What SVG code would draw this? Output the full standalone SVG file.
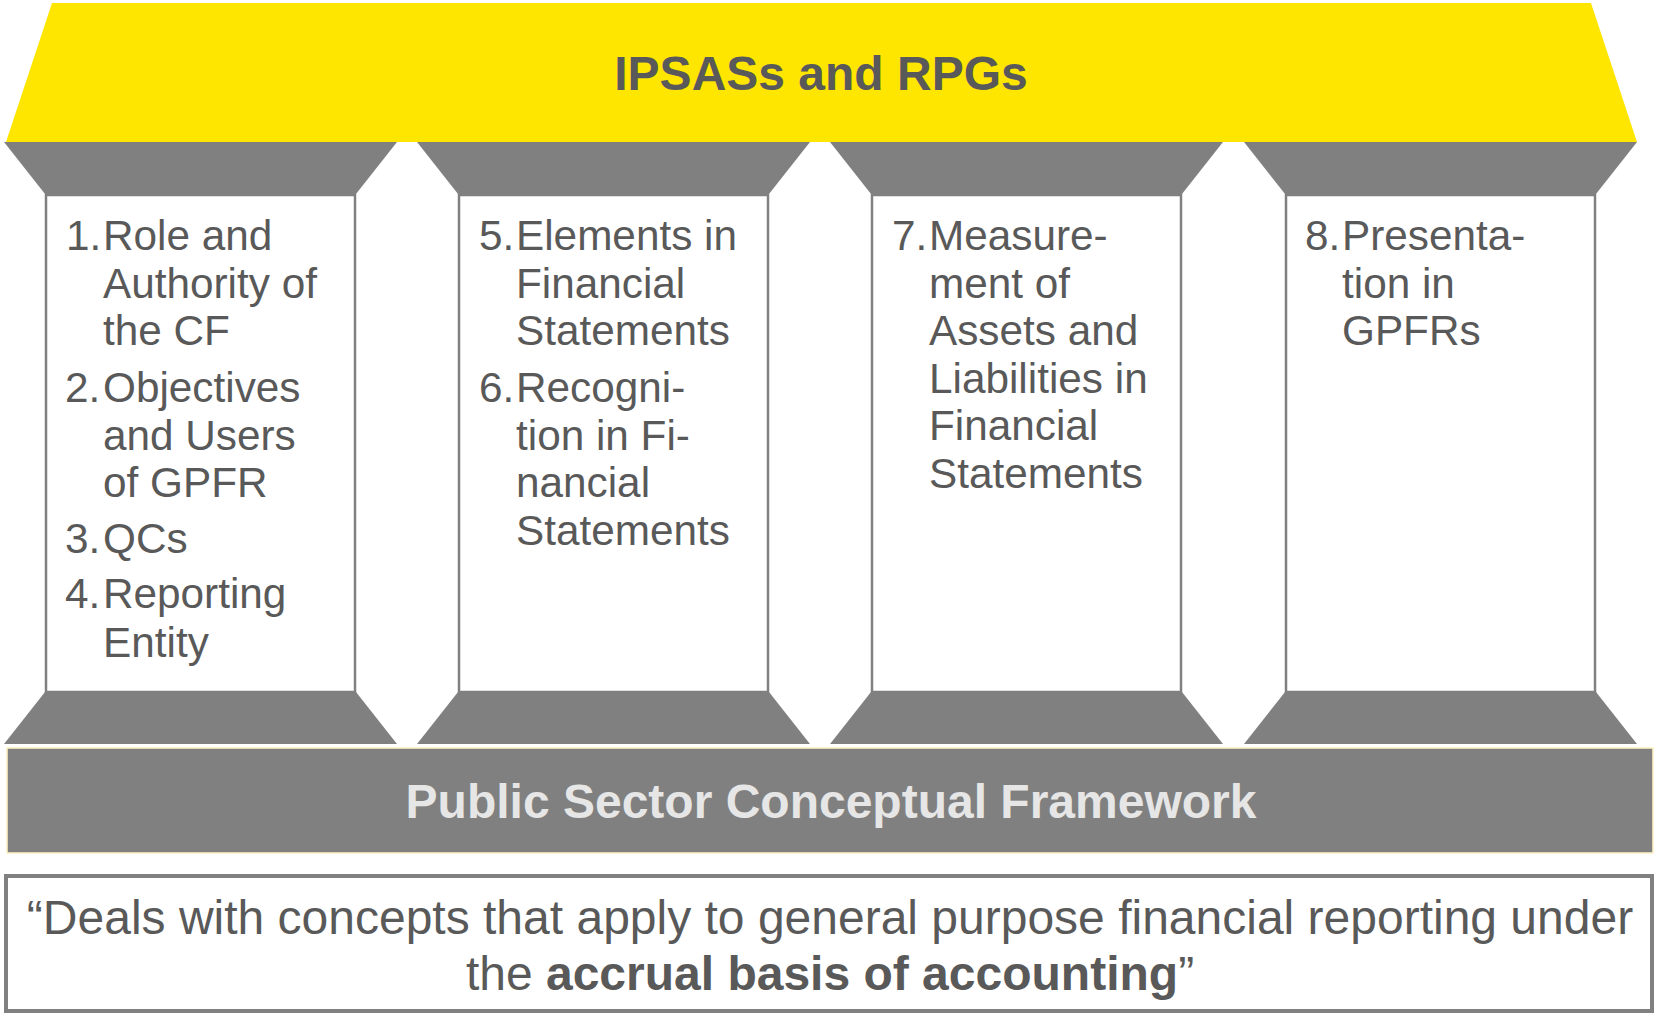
<svg xmlns="http://www.w3.org/2000/svg" width="1655" height="1014" viewBox="0 0 1655 1014">
<style>
.cap{fill:#808080}
.col{fill:#fff;stroke:#808080;stroke-width:2.5}
.t{font-family:"Liberation Sans",Arial,sans-serif;font-size:42.3px;fill:#595959}
.title{font-family:"Liberation Sans",Arial,sans-serif;font-size:48px;font-weight:bold;fill:#595959}
.band{font-family:"Liberation Sans",Arial,sans-serif;font-size:48px;font-weight:bold;fill:#e6e6e6}
.q{font-family:"Liberation Sans",Arial,sans-serif;font-size:48px;fill:#595959}
</style>
<g id="roof">
<polygon points="52,3 1591,3 1637,142 6,142" fill="#FFE600"/>
<text class="title" x="821" y="90" text-anchor="middle">IPSASs and RPGs</text>
</g>
<g id="column1">
<polygon class="cap" points="4,142 397,142 356,194 45,194"/>
<rect class="col" x="46" y="195" width="309" height="497"/>
<polygon class="cap" points="45,692 356,692 397,744 4,744"/>
<text class="t"><tspan x="66" y="250">1.</tspan><tspan x="103" y="250">Role and</tspan><tspan x="103" y="298">Authority of</tspan><tspan x="103" y="345">the CF</tspan><tspan x="65" y="402">2.</tspan><tspan x="103" y="402">Objectives</tspan><tspan x="103" y="450">and Users</tspan><tspan x="103" y="497">of GPFR</tspan><tspan x="65" y="553">3.</tspan><tspan x="103" y="553">QCs</tspan><tspan x="65" y="608">4.</tspan><tspan x="103" y="608">Reporting</tspan><tspan x="103" y="657">Entity</tspan></text>
</g>
<g id="column2">
<polygon class="cap" points="417,142 810,142 769,194 458,194"/>
<rect class="col" x="459" y="195" width="309" height="497"/>
<polygon class="cap" points="458,692 769,692 810,744 417,744"/>
<text class="t"><tspan x="479" y="250">5.</tspan><tspan x="516" y="250">Elements in</tspan><tspan x="516" y="298">Financial</tspan><tspan x="516" y="345">Statements</tspan><tspan x="479" y="402">6.</tspan><tspan x="516" y="402">Recogni-</tspan><tspan x="516" y="450">tion in Fi-</tspan><tspan x="516" y="497">nancial</tspan><tspan x="516" y="545">Statements</tspan></text>
</g>
<g id="column3">
<polygon class="cap" points="830,142 1223,142 1182,194 871,194"/>
<rect class="col" x="872" y="195" width="309" height="497"/>
<polygon class="cap" points="871,692 1182,692 1223,744 830,744"/>
<text class="t"><tspan x="892" y="250">7.</tspan><tspan x="929" y="250">Measure-</tspan><tspan x="929" y="298">ment of</tspan><tspan x="929" y="345">Assets and</tspan><tspan x="929" y="393">Liabilities in</tspan><tspan x="929" y="440">Financial</tspan><tspan x="929" y="488">Statements</tspan></text>
</g>
<g id="column4">
<polygon class="cap" points="1244,142 1637,142 1596,194 1285,194"/>
<rect class="col" x="1286" y="195" width="309" height="497"/>
<polygon class="cap" points="1285,692 1596,692 1637,744 1244,744"/>
<text class="t"><tspan x="1305" y="250">8.</tspan><tspan x="1342" y="250">Presenta-</tspan><tspan x="1342" y="298">tion in</tspan><tspan x="1342" y="345">GPFRs</tspan></text>
</g>
<g id="base">
<rect x="7" y="748" width="1646" height="105" fill="#808080" stroke="#FFF4C2" stroke-width="1.5"/>
<text class="band" x="831" y="818" text-anchor="middle">Public Sector Conceptual Framework</text>
</g>
<g id="quote">
<rect x="6" y="876" width="1646" height="135" fill="#fff" stroke="#808080" stroke-width="4"/>
<text class="q" x="830" y="934" text-anchor="middle">“Deals with concepts that apply to general purpose financial reporting under</text>
<text class="q" x="830" y="990" text-anchor="middle">the <tspan font-weight="bold">accrual basis of accounting</tspan>”</text>
</g>
<g id="connectors"/>
</svg>
